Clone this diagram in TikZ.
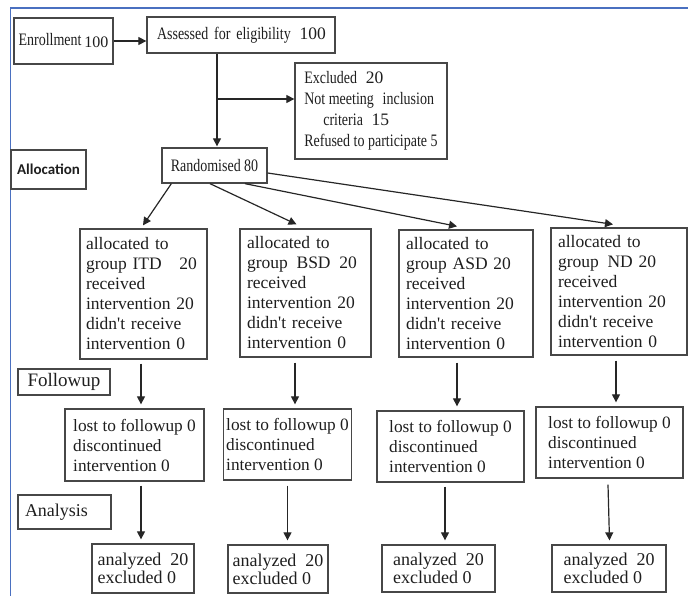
\documentclass[tikz,border=0pt]{standalone}
\usepackage{fontspec}
\setmainfont{Liberation Serif}
\newfontfamily\serifnorm{Liberation Serif}
\newfontfamily\cond[FakeStretch=0.8]{Liberation Serif}
\newfontfamily\carl{Carlito}
\usetikzlibrary{arrows.meta,calc}
\definecolor{boxc}{HTML}{474747}
\definecolor{framec}{HTML}{4A70C0}
\definecolor{txtc}{HTML}{1E1E1E}
\begin{document}
\begin{tikzpicture}[x=1pt,y=-1pt,
  box/.style={draw=boxc, line width=1.3pt, inner sep=0pt, text=txtc, align=left},
  gtxt/.style={font=\serifnorm\fontsize{17.5}{20}\selectfont},
  ltxt/.style={font=\serifnorm\fontsize{17.3}{20}\selectfont},
  atxt/.style={font=\serifnorm\fontsize{18}{18}\selectfont},
  ttxt/.style={font=\serifnorm\fontsize{17.5}{21}\selectfont},
  arr/.style={-{Triangle[length=8pt,width=8pt]}, line width=1.2pt, draw=black!85},
  frame/.style={draw=framec, line width=1.6pt}]
\useasboundingbox (0,0) rectangle (688,596);
\draw[frame] (688,8) -- (10.5,8) -- (10.5,596);

% top row
\node[box, ttxt, align=center, minimum width=99pt, minimum height=46pt] (enroll) at (63.5,41)
  {{\cond Enrollment}\,\raisebox{-2pt}{\fontsize{16}{18}\selectfont 100}};
\node[box, ttxt, minimum width=188pt, minimum height=36pt, text width=168pt] (assess) at (241,35)
  {\raisebox{3pt}{{\cond Assessed for eligibility}\enspace 100}};
\node[box, ttxt, minimum width=152pt, minimum height=96pt] (excl) at (371,111)
  {{\cond Excluded}\enspace 20\\
   {\cond Not meeting\enspace inclusion}\\
   \hspace*{19pt}{\cond criteria}\enspace 15\\
   {\cond Refused to participate 5}};
\node[box, minimum width=75pt, minimum height=39pt, align=center, font=\carl\bfseries\fontsize{15}{18}\selectfont] (alloc) at (48.5,169.5) {Allocation};
\node[box, ttxt, align=center, minimum width=105pt, minimum height=35pt] (rand) at (214.5,165.5) {\cond Randomised 80};

% group boxes
\node[box, gtxt, minimum width=127pt, minimum height=130pt, text width=115pt] (g1) at (143.5,294)
  {allocated to\\group ITD\quad 20\\received\\intervention 20\\didn\textquotesingle t receive\\intervention 0};
\node[box, gtxt, minimum width=131pt, minimum height=128pt, text width=117pt] (g2) at (305.5,293)
  {allocated to\\group\enspace BSD\enspace 20\\received\\intervention 20\\didn\textquotesingle t receive\\intervention 0};
\node[box, gtxt, minimum width=134pt, minimum height=127pt, text width=120pt] (g3) at (466,293.5)
  {allocated to\\group ASD 20\\received\\intervention 20\\didn\textquotesingle t receive\\intervention 0};
\node[box, gtxt, minimum width=136pt, minimum height=127pt, text width=122pt] (g4) at (619,291.5)
  {allocated to\\group\enspace ND 20\\received\\intervention 20\\didn\textquotesingle t receive\\intervention 0};

% followup
\node[box, align=center, minimum width=92pt, minimum height=26pt, font=\serifnorm\fontsize{19}{20}\selectfont] (follow) at (64,382) {Followup};
\node[box, ltxt, minimum width=139pt, minimum height=72pt] (l1) at (134.5,445)
  {lost to followup 0\\discontinued\\intervention 0};
\node[box, ltxt, minimum width=128pt, minimum height=71pt] (l2) at (287.5,444.5)
  {lost to followup 0\\discontinued\\intervention 0};
\node[box, ltxt, minimum width=147pt, minimum height=71pt] (l3) at (450.5,446.5)
  {lost to followup 0\\discontinued\\intervention 0};
\node[box, ltxt, minimum width=147pt, minimum height=71pt] (l4) at (609.5,442.5)
  {lost to followup 0\\discontinued\\intervention 0};

% analysis
\node[box, minimum width=93pt, minimum height=34pt, text width=79pt, font=\serifnorm\fontsize{18}{20}\selectfont] (anal) at (64.5,512) {Analysis};
\node[box, atxt, minimum width=102pt, minimum height=49pt] (a1) at (143,568.5) {analyzed\enspace 20\\excluded 0};
\node[box, atxt, minimum width=100pt, minimum height=48pt] (a2) at (278,569) {analyzed\enspace 20\\excluded 0};
\node[box, atxt, minimum width=113pt, minimum height=47pt] (a3) at (438.5,568.5) {analyzed\enspace 20\\excluded 0};
\node[box, atxt, minimum width=114pt, minimum height=47pt] (a4) at (609,568.5) {analyzed\enspace 20\\excluded 0};

% connectors
\coordinate (v) at (217,99);
\draw[arr] (enroll.east) -- (enroll.east -| assess.west);
\draw[arr] (v |- assess.south) -- ($(v |- rand.north)+(0,-1)$);
\draw[arr] (v) -- (v -| excl.west);

\draw[arr] ($(rand.south west)+(10,0)$) -- ($(g1.north)+(-0.5,-3)$);
\draw[arr] ($(rand.south)+(-4.5,0)$) -- ($(g2.north)+(-9,-4)$);
\draw[arr] ($(rand.south)+(30.5,0)$) -- ($(g3.north)+(-9,-3)$);
\draw[arr] ($(rand.east)+(0,7.5)$) -- ($(g4.north)+(-6,-3)$);

\draw[arr] ($(g1.south)+(-2.5,4)$) -- ($(l1.north)+(6.5,-4)$);
\draw[arr] ($(g2.south)+(-10.5,5)$) -- ($(l2.north)+(7.5,-4)$);
\draw[arr] ($(g3.south)+(-9,5)$) -- ($(l3.north)+(6.5,-4)$);
\draw[arr] ($(g4.south)+(-3,5)$) -- ($(l4.north)+(6.5,-4)$);

\draw[arr] ($(l1.south)+(6.5,4)$) -- ($(a1.north)+(-2,-4)$);
\draw[arr] ($(l2.south)+(0,5)$) -- ($(a2.north)+(9.5,-4)$);
\draw[arr] ($(l3.south)+(-5.5,4)$) -- ($(a3.north)+(6.5,-4)$);
\draw[arr] ($(l4.south)+(-1.5,6)$) -- ($(a4.north)+(0.5,-4)$);
\end{tikzpicture}
\end{document}
